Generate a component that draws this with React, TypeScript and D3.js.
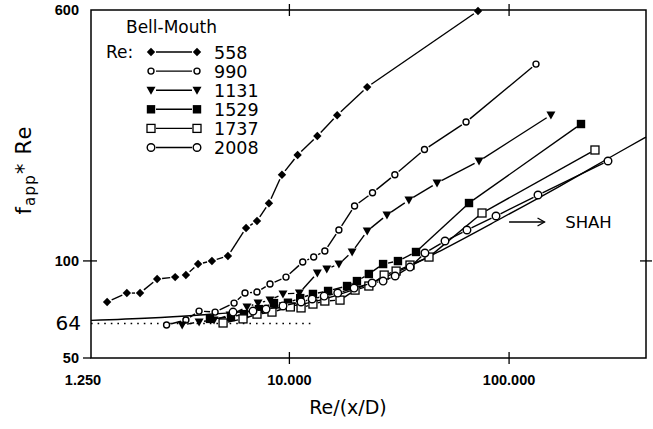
import React, { useEffect, useRef } from "react";
import * as d3 from "d3";

// Re values shown in the legend and the marker used for each
const seriesNames = ["558", "990", "1131", "1529", "1737", "2008"];
const markerKinds = ["diamond", "smallCircle", "triangle", "filledSquare", "openSquare", "circle"];

// [Re/(x/D), fapp*Re]
const re558 = [[1.48, 74.6], [1.82, 79.5], [2.09, 79.5], [2.5, 87.9], [3.02, 89.1], [3.38, 90.4], [3.84, 97.8], [4.44, 100], [5.25, 103.6], [6.35, 126.5], [7.12, 133], [8.07, 151], [9.25, 185], [10.9, 213], [13.4, 244], [16.5, 283], [22.6, 346], [72.2, 596]];
const re990 = [[2.76, 63.3], [3.38, 65.6], [3.88, 69.9], [4.59, 69.4], [5.6, 74.0], [6.28, 79.5], [7.12, 80.1], [8.16, 84.8], [9.65, 89.1], [11.5, 99.2], [12.9, 102.8], [14.5, 107.3], [16.8, 124.7], [19.8, 148], [23.9, 162.7], [30.2, 185], [41.2, 221.5], [63.7, 269.6], [132.6, 407.7]];
const re1131 = [[3.25, 63.3], [3.88, 64.7], [4.54, 65.6], [5.37, 68.0], [6.41, 72.0], [7.2, 74.0], [8.16, 75.6], [9.35, 79.0], [11.1, 79.5], [13.4, 91.7], [14.8, 94.4], [16.8, 97.8], [19.3, 106.6], [22.6, 123.8], [27.8, 138.8], [35.0, 154.5], [47.0, 174.4], [73.0, 204.1], [155, 283.4]];
const re1529 = [[4.35, 66.1], [5.42, 67.0], [6.21, 68.4], [7.27, 70.9], [8.51, 74.0], [9.85, 74.2], [11.2, 76.7], [12.8, 79.0], [15.0, 80.7], [18.3, 83.6], [20.3, 86.6], [23.0, 91.1], [26.7, 97.8], [31.2, 99.9], [37.7, 106.6], [65.7, 151.2], [212.5, 265.8]];
const re1737 = [[4.99, 64.2], [6.15, 66.1], [7.12, 68.4], [8.33, 69.4], [10.1, 72.0], [11.3, 71.5], [12.8, 73.5], [14.5, 75.1], [17.0, 75.6], [19.9, 81.2], [23.0, 83.6], [27.0, 90.4], [30.6, 93.0], [35.4, 97.1], [43.2, 102.8], [75.3, 140.8], [246, 220.8]];
const re2008 = [[5.54, 69.4], [6.83, 69.9], [7.83, 70.9], [9.35, 72.5], [11.3, 74.6], [12.7, 76.2], [14.4, 77.8], [16.6, 79.5], [19.7, 82.4], [23.8, 85.4], [26.7, 86.6], [30.3, 89.8], [35.4, 95.7], [41.4, 105.8], [51.1, 115.3], [64.3, 124.7], [87.2, 137.8], [135.4, 160.1], [282, 204.1]];

// Shah's curve and the fully developed value 64
const shah = [[1.25, 65.4], [2.32, 66.5], [3.92, 68.0], [6.62, 69.9], [10.2, 72.5], [13.8, 75.6], [18.9, 80.7], [25.9, 87.9], [35.4, 96.4], [50.0, 108.5], [90.9, 134.9], [170.5, 170.7], [330, 220.8], [420, 242.2]];
const fullyDeveloped = [[1.25, 64], [12.9, 64]];

const xTicks = [1.25, 10, 100];
const xTickLabels = ["1.250", "10.000", "100.000"];
const yTicks = [50, 100, 600];
const yTickLabels = ["50", "100", "600"];

const allSeries = [re558, re990, re1131, re1529, re1737, re2008];

const W = 653;
const H = 429;

function marker(g: any, kind: string, cx: number, cy: number) {
  if (kind === "diamond") {
    g.append("path")
      .attr("d", `M${cx},${cy - 4.2}L${cx + 4.2},${cy}L${cx},${cy + 4.2}L${cx - 4.2},${cy}Z`)
      .attr("fill", "#000");
  } else if (kind === "smallCircle") {
    g.append("circle").attr("cx", cx).attr("cy", cy).attr("r", 3)
      .attr("fill", "#fff").attr("stroke", "#000").attr("stroke-width", 1.4);
  } else if (kind === "circle") {
    g.append("circle").attr("cx", cx).attr("cy", cy).attr("r", 3.8)
      .attr("fill", "#fff").attr("stroke", "#000").attr("stroke-width", 1.4);
  } else if (kind === "triangle") {
    g.append("path")
      .attr("d", `M${cx - 4.5},${cy - 3.5}L${cx + 4.5},${cy - 3.5}L${cx},${cy + 4.5}Z`)
      .attr("fill", "#000");
  } else if (kind === "filledSquare") {
    g.append("rect").attr("x", cx - 4.2).attr("y", cy - 4.2).attr("width", 8.4).attr("height", 8.4)
      .attr("fill", "#000");
  } else if (kind === "openSquare") {
    g.append("rect").attr("x", cx - 4).attr("y", cy - 4).attr("width", 8).attr("height", 8)
      .attr("fill", "#fff").attr("stroke", "#000").attr("stroke-width", 1.3);
  }
}

// line between markers, broken a little around each marker
function brokenLine(g: any, pts: number[][], gap: number) {
  for (let i = 0; i < pts.length - 1; i++) {
    const [x1, y1] = pts[i];
    const [x2, y2] = pts[i + 1];
    const dx = x2 - x1;
    const dy = y2 - y1;
    const len = Math.hypot(dx, dy);
    if (len <= 2 * gap + 1) continue;
    const ux = dx / len;
    const uy = dy / len;
    g.append("line")
      .attr("x1", x1 + ux * gap).attr("y1", y1 + uy * gap)
      .attr("x2", x2 - ux * gap).attr("y2", y2 - uy * gap)
      .attr("stroke", "#000").attr("stroke-width", 1.4);
  }
}

const App = () => {
  const ref = useRef<SVGSVGElement>(null);

  useEffect(() => {
    drawChart();
  }, []);

  const drawChart = () => {
    const svg = d3.select(ref.current);
    svg.selectAll("*").remove();

    const x = d3.scaleLog().domain([1.25, 420]).range([91, 646]);
    const y = d3.scaleLog().domain([50, 600]).range([358, 10]);

    svg.append("rect").attr("width", W).attr("height", H).attr("fill", "#fff");

    // frame
    svg.append("rect")
      .attr("x", x(1.25)).attr("y", y(600))
      .attr("width", x(420) - x(1.25)).attr("height", y(50) - y(600))
      .attr("fill", "none").attr("stroke", "#000").attr("stroke-width", 1.5);

    // ticks
    [10, 100].forEach((t) => {
      svg.append("line").attr("x1", x(t)).attr("x2", x(t)).attr("y1", y(50) - 6).attr("y2", y(50) + 6)
        .attr("stroke", "#000").attr("stroke-width", 1.3);
      svg.append("line").attr("x1", x(t)).attr("x2", x(t)).attr("y1", y(600) - 6).attr("y2", y(600) + 6)
        .attr("stroke", "#000").attr("stroke-width", 1.3);
    });
    svg.append("line").attr("x1", x(1.25) - 8).attr("x2", x(1.25) + 6).attr("y1", y(100)).attr("y2", y(100))
      .attr("stroke", "#000").attr("stroke-width", 1.3);
    svg.append("line").attr("x1", x(1.25) - 8).attr("x2", x(1.25)).attr("y1", y(50)).attr("y2", y(50))
      .attr("stroke", "#000").attr("stroke-width", 1.3);
    svg.append("line").attr("x1", x(420) - 6).attr("x2", x(420) + 6).attr("y1", y(100)).attr("y2", y(100))
      .attr("stroke", "#000").attr("stroke-width", 1.3);

    // tick labels
    xTicks.forEach((t, i) => {
      svg.append("text")
        .attr("x", i === 0 ? x(t) - 8 : x(t)).attr("y", 385)
        .attr("text-anchor", "middle")
        .attr("font-family", "Liberation Sans, Arial, sans-serif")
        .attr("font-weight", "bold").attr("font-size", 14.5)
        .text(xTickLabels[i]);
    });
    yTicks.forEach((t, i) => {
      svg.append("text")
        .attr("x", 79).attr("y", y(t) + 5)
        .attr("text-anchor", "end")
        .attr("font-family", "Liberation Sans, Arial, sans-serif")
        .attr("font-weight", "bold").attr("font-size", 14.5)
        .text(yTickLabels[i]);
    });
    svg.append("text")
      .attr("x", 81).attr("y", y(64) + 7)
      .attr("text-anchor", "end")
      .attr("font-family", "DejaVu Sans, sans-serif").attr("font-size", 20)
      .text("64");

    // axis titles
    svg.append("text")
      .attr("x", 348).attr("y", 414)
      .attr("text-anchor", "middle")
      .attr("font-family", "DejaVu Sans, sans-serif").attr("font-size", 19)
      .text("Re/(x/D)");
    const yt = svg.append("text")
      .attr("transform", "translate(31,170) rotate(-90)")
      .attr("text-anchor", "middle")
      .attr("letter-spacing", 1.2)
      .attr("font-family", "DejaVu Sans, sans-serif").attr("font-size", 21);
    yt.append("tspan").text("f");
    yt.append("tspan").attr("font-size", 15).attr("dy", 4).text("app");
    yt.append("tspan").attr("dy", -4).text("* Re");

    // dotted fully developed line
    svg.append("path")
      .attr("d", d3.line()(fullyDeveloped.map((d) => [x(d[0]), y(d[1])]) as any))
      .attr("fill", "none").attr("stroke", "#000").attr("stroke-width", 1.6)
      .attr("stroke-dasharray", "1.6 5");

    // Shah curve
    svg.append("path")
      .attr("d", d3.line().curve(d3.curveMonotoneX)(shah.map((d) => [x(d[0]), y(d[1])]) as any))
      .attr("fill", "none").attr("stroke", "#000").attr("stroke-width", 1.4);

    // data series
    allSeries.forEach((s, i) => {
      const g = svg.append("g");
      const pts = s.map((d) => [x(d[0]), y(d[1])]);
      brokenLine(g, pts, 5);
      pts.forEach((p) => marker(g, markerKinds[i], p[0], p[1]));
    });

    // SHAH arrow
    const ax1 = x(100), ax2 = x(145), ay = 222;
    svg.append("line").attr("x1", ax1).attr("x2", ax2).attr("y1", ay).attr("y2", ay)
      .attr("stroke", "#000").attr("stroke-width", 1.3);
    svg.append("path")
      .attr("d", `M${ax2 - 7},${ay - 4}L${ax2},${ay}L${ax2 - 7},${ay + 4}`)
      .attr("fill", "none").attr("stroke", "#000").attr("stroke-width", 1.3);
    svg.append("text")
      .attr("x", x(180)).attr("y", ay + 6)
      .attr("font-family", "DejaVu Sans, sans-serif").attr("font-size", 16.5)
      .text("SHAH");

    // legend
    const lg = svg.append("g").attr("font-family", "DejaVu Sans, sans-serif");
    lg.append("text").attr("x", 126).attr("y", 33).attr("font-size", 17).text("Bell-Mouth");
    lg.append("text").attr("x", 106).attr("y", 58).attr("font-size", 17).text("Re:");
    seriesNames.forEach((name, i) => {
      const cy = 52 + i * 19.1;
      brokenLine(lg, [[151, cy], [197, cy]], 5);
      marker(lg, markerKinds[i], 151, cy);
      marker(lg, markerKinds[i], 197, cy);
      lg.append("text").attr("x", 214).attr("y", cy + 6.5).attr("font-size", 17.5).text(name);
    });
  };

  return (
    <svg ref={ref} width={W} height={H} style={{ position: "absolute", left: 0, top: 0 }} />
  );
};

export default App;
